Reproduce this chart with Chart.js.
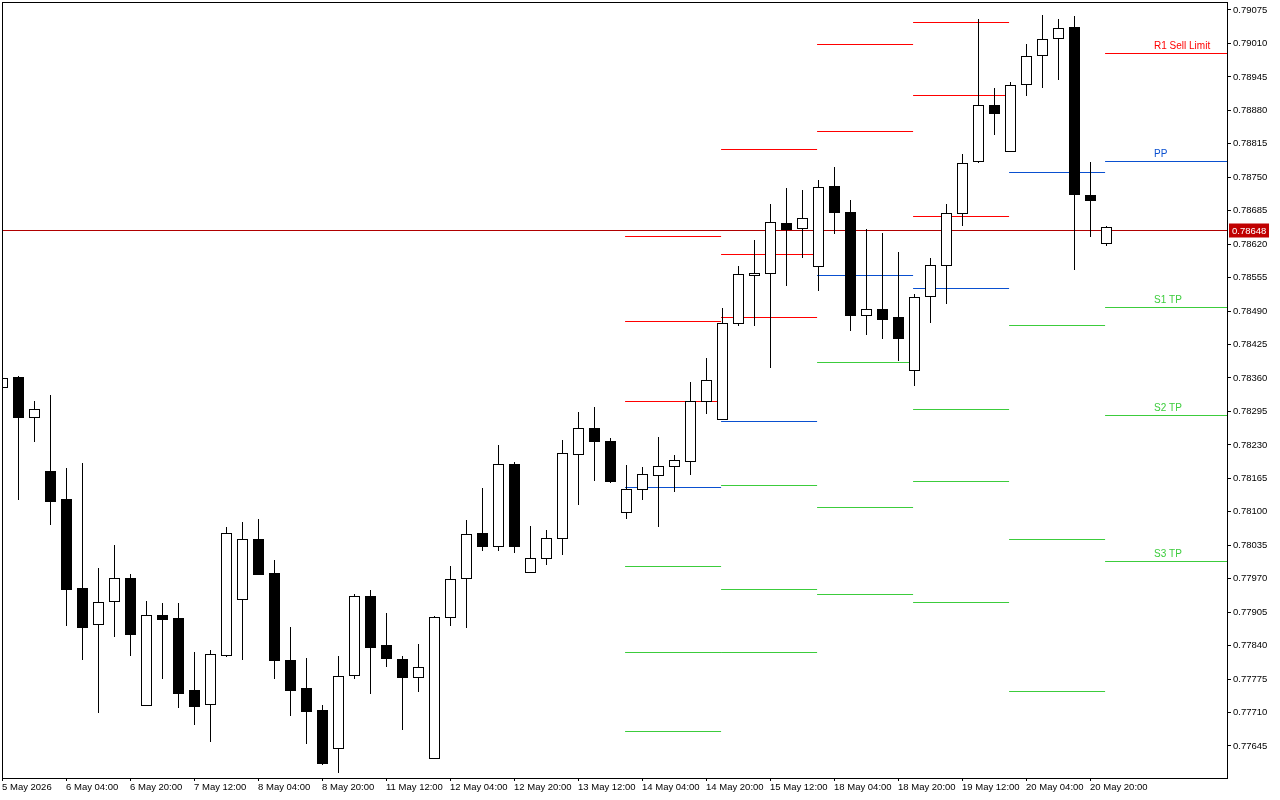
<!DOCTYPE html>
<html>
<head>
<meta charset="utf-8">
<script src="https://cdn.jsdelivr.net/npm/chart.js@4"></script>
<style>
  html, body { margin: 0; padding: 0; background: #fff; }
  #wrap { width: 1280px; height: 800px; }
</style>
</head>
<body>
<div id="wrap"><canvas id="chart" width="1280" height="800"></canvas></div>
<script>
// H4 candles, 5 May - 20 May 2026
const candleOpen = [
  0.78342,0.78362,0.78284,0.78179,0.78125,0.77952,0.77882,0.77927,0.77971,0.77725,
  0.77899,0.77894,0.77754,0.77727,0.77822,0.77931,0.78047,0.77981,0.77812,0.77758,
  0.77715,0.77641,0.77783,0.77936,0.77841,0.77814,0.77779,0.77622,0.77896,0.77971,
  0.78059,0.78034,0.78193,0.77983,0.78010,0.78049,0.78212,0.78263,0.78238,0.78100,
  0.78144,0.78172,0.78189,0.78199,0.78315,0.78280,0.78467,0.78560,0.78564,0.78661,
  0.78651,0.78578,0.78733,0.78683,0.78482,0.78494,0.78479,0.78376,0.78519,0.78580,
  0.78681,0.78782,0.78890,0.78801,0.78931,0.78988,0.79021,0.79042,0.78716,0.78622
];
const candleHigh = [
  0.78364,0.78364,0.78315,0.78327,0.78185,0.78195,0.77991,0.78035,0.77979,0.77927,
  0.77923,0.77923,0.77828,0.77831,0.78070,0.78080,0.78086,0.78006,0.77876,0.77816,
  0.77725,0.77820,0.77940,0.77948,0.77903,0.77820,0.77843,0.77898,0.77995,0.78084,
  0.78146,0.78230,0.78197,0.78072,0.78065,0.78240,0.78294,0.78304,0.78243,0.78191,
  0.78187,0.78245,0.78210,0.78352,0.78399,0.78496,0.78578,0.78628,0.78698,0.78729,
  0.78725,0.78745,0.78770,0.78706,0.78649,0.78642,0.78605,0.78523,0.78593,0.78698,
  0.78795,0.79058,0.78923,0.78935,0.79009,0.79065,0.79058,0.79063,0.78780,0.78655
];
const candleLow = [
  0.78340,0.78123,0.78236,0.78074,0.77878,0.77812,0.77709,0.77857,0.77820,0.77725,
  0.77775,0.77719,0.77686,0.77653,0.77818,0.77812,0.77979,0.77775,0.77703,0.77649,
  0.77608,0.77592,0.77775,0.77746,0.77798,0.77676,0.77750,0.77622,0.77878,0.77874,
  0.78024,0.78024,0.78020,0.77983,0.77997,0.78016,0.78113,0.78160,0.78156,0.78086,
  0.78123,0.78070,0.78138,0.78172,0.78290,0.78280,0.78461,0.78461,0.78379,0.78539,
  0.78593,0.78529,0.78640,0.78451,0.78444,0.78436,0.78393,0.78344,0.78467,0.78504,
  0.78655,0.78778,0.78832,0.78799,0.78908,0.78923,0.78939,0.78570,0.78634,0.78616
];
const candleClose = [
  0.78360,0.78284,0.78300,0.78121,0.77950,0.77876,0.77925,0.77971,0.77863,0.77899,
  0.77892,0.77748,0.77723,0.77824,0.78059,0.78047,0.77979,0.77812,0.77754,0.77713,
  0.77612,0.77781,0.77936,0.77837,0.77816,0.77779,0.77798,0.77896,0.77969,0.78057,
  0.78034,0.78193,0.78034,0.78010,0.78049,0.78214,0.78263,0.78238,0.78160,0.78144,
  0.78173,0.78189,0.78201,0.78315,0.78356,0.78467,0.78562,0.78564,0.78663,0.78649,
  0.78671,0.78731,0.78683,0.78482,0.78494,0.78475,0.78438,0.78517,0.78580,0.78681,
  0.78778,0.78890,0.78875,0.78929,0.78986,0.79019,0.79040,0.78718,0.78706,0.78653
];

const timeLabels = ['5 May 2026','6 May 04:00','6 May 20:00','7 May 12:00','8 May 04:00','8 May 20:00',
  '11 May 12:00','12 May 04:00','12 May 20:00','13 May 12:00','14 May 04:00','14 May 20:00',
  '15 May 12:00','18 May 04:00','18 May 20:00','19 May 12:00','20 May 04:00','20 May 20:00'];
const priceTicks = [0.79075,0.79010,0.78945,0.78880,0.78815,0.78750,0.78685,0.78620,0.78555,0.78490,
  0.78425,0.78360,0.78295,0.78230,0.78165,0.78100,0.78035,0.77970,0.77905,0.77840,0.77775,0.77710,0.77645];
const currentPrice = 0.78648;

// daily pivot levels, one entry per day (segment start bar)
const levelStart = [39, 45, 51, 57, 63, 69];
const levelR3 = [0.78636, 0.78805, 0.79009, 0.79052, null, null];
const levelR2 = [0.78471, 0.78601, 0.78840, 0.78910, null, null];
const levelR1 = [0.78315, 0.78479, null, 0.78675, null, 0.78991];
const levelPP = [0.78148, 0.78276, 0.78560, 0.78535, 0.78760, 0.78782];
const levelS1 = [0.77995, 0.78152, 0.78391, 0.78300, 0.78463, 0.78498];
const levelS2 = [0.77828, 0.77950, 0.78109, 0.78160, 0.78047, 0.78288];
const levelS3 = [0.77674, 0.77828, 0.77940, 0.77925, 0.77752, 0.78004];
const lastLabels = { r1: 'R1 Sell Limit', pp: 'PP', s1: 'S1 TP', s2: 'S2 TP', s3: 'S3 TP' };

const RED = '#ff0000', BLUE = '#0a50d0', GREEN = '#3ccc3c';
const FONT = '"Liberation Sans", Arial, sans-serif';

const candlePlugin = {
  id: 'candles',
  afterDatasetsDraw(chart) {
    const { ctx, chartArea: a, scales: { x, y } } = chart;
    ctx.save();
    ctx.beginPath();
    ctx.rect(a.left, a.top, a.right - a.left, a.bottom - a.top);
    ctx.clip();

    // level segments
    const levels = [[levelR3, RED], [levelR2, RED], [levelR1, RED], [levelPP, BLUE],
                    [levelS1, GREEN], [levelS2, GREEN], [levelS3, GREEN]];
    ctx.lineWidth = 1;
    levels.forEach(([vals, col]) => {
      vals.forEach((v, d) => {
        if (v === null) return;
        const x0 = x.getPixelForValue(levelStart[d] - 0.06);
        const x1 = d === levelStart.length - 1 ? a.right : x.getPixelForValue(levelStart[d] + 6 - 0.06);
        const py = Math.round(y.getPixelForValue(v)) + 0.5;
        ctx.strokeStyle = col;
        ctx.beginPath(); ctx.moveTo(x0, py); ctx.lineTo(x1, py); ctx.stroke();
      });
    });

    // current price line
    const cp = Math.round(y.getPixelForValue(currentPrice)) + 0.5;
    ctx.strokeStyle = '#b00000';
    ctx.beginPath(); ctx.moveTo(a.left, cp); ctx.lineTo(a.right, cp); ctx.stroke();

    // labels of the last day
    const last = levelStart.length - 1;
    ctx.font = '10px ' + FONT;
    ctx.textBaseline = 'alphabetic';
    [[levelR1, 'r1', RED], [levelPP, 'pp', BLUE], [levelS1, 's1', GREEN],
     [levelS2, 's2', GREEN], [levelS3, 's3', GREEN]].forEach(([vals, k, col]) => {
      ctx.fillStyle = col;
      ctx.fillText(lastLabels[k], x.getPixelForValue(levelStart[last] + 3), y.getPixelForValue(vals[last]) - 4);
    });

    // candles
    candleOpen.forEach((o, i) => {
      const c = candleClose[i];
      const cx = Math.round(x.getPixelForValue(i)) + 0.5;
      const yh = Math.round(y.getPixelForValue(candleHigh[i]));
      const yl = Math.round(y.getPixelForValue(candleLow[i]));
      let yt = Math.round(y.getPixelForValue(Math.max(o, c)));
      let yb = Math.round(y.getPixelForValue(Math.min(o, c)));
      if (yb - yt < 1) yb = yt + 1;
      ctx.strokeStyle = '#000';
      ctx.beginPath(); ctx.moveTo(cx, yh); ctx.lineTo(cx, yl); ctx.stroke();
      if (c >= o) {
        ctx.fillStyle = '#fff';
        ctx.fillRect(cx - 5, yt, 10, yb - yt);
        ctx.strokeRect(cx - 5, yt + 0.5, 10, yb - yt);
      } else {
        ctx.fillStyle = '#000';
        ctx.fillRect(cx - 5.5, yt, 11, yb - yt + 1);
      }
    });
    ctx.restore();

    // frame
    ctx.save();
    ctx.strokeStyle = '#000';
    ctx.lineWidth = 1;
    ctx.strokeRect(a.left - 0.5, a.top - 0.5, a.right - a.left + 1, a.bottom - a.top + 1);
    // current price box
    ctx.fillStyle = '#c00000';
    ctx.fillRect(a.right + 2, cp - 7, 40, 14);
    ctx.fillStyle = '#fff';
    ctx.font = '9.5px ' + FONT;
    ctx.textBaseline = 'middle';
    ctx.fillText(currentPrice.toFixed(5), a.right + 5, cp + 0.5);
    ctx.restore();
  }
};

new Chart(document.getElementById('chart'), {
  type: 'scatter',
  data: { datasets: [{ data: [], pointRadius: 0 }] },
  options: {
    responsive: false,
    animation: false,
    layout: { padding: { left: 3, top: 3, right: 0, bottom: 0 } },
    plugins: { legend: { display: false }, tooltip: { enabled: false } },
    scales: {
      x: {
        type: 'linear', min: 0.06, max: 76.56,
        afterBuildTicks: s => { s.ticks = timeLabels.map((_, k) => ({ value: k * 4 })); },
        afterFit: s => { s.height = 22; s.paddingLeft = 0; s.paddingRight = 0; },
        grid: { drawOnChartArea: false, tickLength: 3, color: '#000' },
        border: { display: false },
        ticks: {
          autoSkip: false, maxRotation: 0, align: 'start', padding: 1,
          color: '#000', font: { family: FONT, size: 9.5 },
          callback: (v) => timeLabels[Math.round(v / 4)]
        }
      },
      y: {
        position: 'right', min: 0.775828, max: 0.790886,
        afterBuildTicks: s => { s.ticks = priceTicks.map(v => ({ value: v })); },
        afterFit: s => { s.width = 53; s.paddingTop = 0; s.paddingBottom = 0; },
        grid: { drawOnChartArea: false, tickLength: 4, color: '#000' },
        border: { display: false },
        ticks: {
          autoSkip: false, padding: 2, color: '#000',
          font: { family: FONT, size: 9.5 },
          callback: v => v.toFixed(5)
        }
      }
    }
  },
  plugins: [candlePlugin]
});
</script>
</body>
</html>
